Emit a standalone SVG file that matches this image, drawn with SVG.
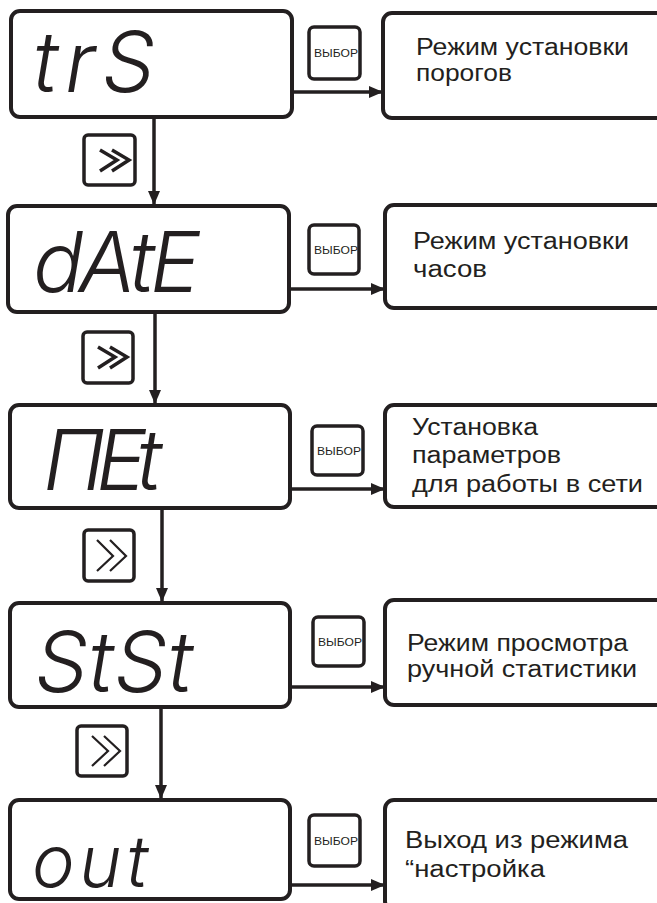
<svg xmlns="http://www.w3.org/2000/svg" width="657" height="903" viewBox="0 0 657 903">
<style>
.box{fill:#fff;stroke:#231f20;stroke-width:4}
.btn{fill:none;stroke:#231f20;stroke-width:3.5}
.nbtn{fill:#fff;stroke:#231f20;stroke-width:3.5}
.seg{font-family:Inter,"Liberation Sans",sans-serif;font-style:italic;font-weight:300;font-size:84px;fill:#231f20}
.lbl{font-family:"Liberation Sans",Arial,sans-serif;font-size:23px;fill:#231f20}
.bt{font-family:"Liberation Sans",Arial,sans-serif;font-size:11px;fill:#231f20}
.chev{fill:none;stroke:#231f20;stroke-width:3.5;stroke-linejoin:miter}
.chev2{fill:none;stroke:#231f20;stroke-width:2.2;stroke-linejoin:miter}
.con{fill:none;stroke:#231f20;stroke-width:3.5}
</style>
<defs>
<marker id="ah" viewBox="0 0 14 12" refX="14" refY="6" markerWidth="14" markerHeight="12" markerUnits="userSpaceOnUse" orient="auto">
<path d="M0,0 L14,6 L0,12 Z" fill="#231f20"/>
</marker>
</defs>
<rect width="657" height="903" fill="#fff"/>

<g id="connectors">
<line class="con" x1="154" y1="117" x2="154" y2="205" marker-end="url(#ah)"/>
<line class="con" x1="155" y1="312" x2="155" y2="404" marker-end="url(#ah)"/>
<line class="con" x1="162" y1="508" x2="162" y2="602" marker-end="url(#ah)"/>
<line class="con" x1="161" y1="707" x2="161" y2="799" marker-end="url(#ah)"/>
<line class="con" x1="292" y1="92" x2="383" y2="92" marker-end="url(#ah)"/>
<line class="con" x1="289" y1="289" x2="385" y2="289" marker-end="url(#ah)"/>
<line class="con" x1="290" y1="489" x2="385" y2="489" marker-end="url(#ah)"/>
<line class="con" x1="290" y1="687" x2="385" y2="687" marker-end="url(#ah)"/>
<line class="con" x1="290" y1="885" x2="385" y2="885" marker-end="url(#ah)"/>
</g>

<g id="disp-trS">
<rect class="box" x="11" y="11" width="281" height="106" rx="9"/>
<text class="seg" x="33" y="92" textLength="122">trS</text>
</g>
<g id="btn-vybor-1">
<text class="bt" x="314" y="57" textLength="44" lengthAdjust="spacingAndGlyphs">ВЫБОР</text>
<rect class="btn" x="309" y="27" width="51" height="52" rx="5"/>
</g>
<g id="mode-1">
<rect class="box" x="383" y="13" width="285" height="105" rx="9"/>
<text class="lbl" x="416" y="55" textLength="213" lengthAdjust="spacingAndGlyphs">Режим установки</text>
<text class="lbl" x="416" y="81" textLength="96" lengthAdjust="spacingAndGlyphs">порогов</text>
</g>
<g id="btn-next-1">
<rect class="nbtn" x="84" y="135" width="51" height="50" rx="4"/>
<polyline class="chev" points="100,150 117,160 100,171"/>
<polyline class="chev" points="112,150 129,160 112,171"/>
</g>

<g id="disp-dAtE">
<rect class="box" x="8" y="206" width="281" height="106" rx="9"/>
<text class="seg" x="33" y="292" textLength="167">dAtE</text>
</g>
<g id="btn-vybor-2">
<text class="bt" x="314" y="254" textLength="44" lengthAdjust="spacingAndGlyphs">ВЫБОР</text>
<rect class="btn" x="309" y="225" width="50" height="49" rx="5"/>
</g>
<g id="mode-2">
<rect class="box" x="385" y="205" width="283" height="103" rx="9"/>
<text class="lbl" x="413" y="249" textLength="216" lengthAdjust="spacingAndGlyphs">Режим установки</text>
<text class="lbl" x="413" y="277" textLength="74" lengthAdjust="spacingAndGlyphs">часов</text>
</g>
<g id="btn-next-2">
<rect class="nbtn" x="83" y="332" width="50" height="51" rx="4"/>
<polyline class="chev" points="98,347 115,357 98,368"/>
<polyline class="chev" points="110,347 127,357 110,368"/>
</g>

<g id="disp-NEt">
<rect class="box" x="10" y="405" width="280" height="103" rx="9"/>
<text class="seg" x="43" y="490" textLength="119">ПEt</text>
</g>
<g id="btn-vybor-3">
<text class="bt" x="317" y="455" textLength="44" lengthAdjust="spacingAndGlyphs">ВЫБОР</text>
<rect class="btn" x="312" y="426" width="51" height="49" rx="5"/>
</g>
<g id="mode-3">
<rect class="box" x="385" y="405" width="283" height="102" rx="9"/>
<text class="lbl" x="412" y="435" textLength="126" lengthAdjust="spacingAndGlyphs">Установка</text>
<text class="lbl" x="412" y="463" textLength="149" lengthAdjust="spacingAndGlyphs">параметров</text>
<text class="lbl" x="412" y="492" textLength="231" lengthAdjust="spacingAndGlyphs">для работы в сети</text>
</g>
<g id="btn-next-3">
<rect class="nbtn" x="84" y="530" width="50" height="51" rx="4"/>
<polyline class="chev2" points="97,540 113,556 97,571"/>
<polyline class="chev2" points="110,540 126,556 110,571"/>
</g>

<g id="disp-StSt">
<rect class="box" x="10" y="603" width="280" height="104" rx="9"/>
<text class="seg" x="35" y="692" textLength="158">StSt</text>
</g>
<g id="btn-vybor-4">
<text class="bt" x="318" y="646" textLength="44" lengthAdjust="spacingAndGlyphs">ВЫБОР</text>
<rect class="btn" x="313" y="617" width="51" height="49" rx="5"/>
</g>
<g id="mode-4">
<rect class="box" x="385" y="600" width="283" height="105" rx="9"/>
<text class="lbl" x="407" y="651" textLength="221" lengthAdjust="spacingAndGlyphs">Режим просмотра</text>
<text class="lbl" x="407" y="677" textLength="230" lengthAdjust="spacingAndGlyphs">ручной статистики</text>
</g>
<g id="btn-next-4">
<rect class="nbtn" x="77" y="726" width="50" height="50" rx="4"/>
<polyline class="chev2" points="92,736 108,751 92,766"/>
<polyline class="chev2" points="104,736 120,751 104,766"/>
</g>

<g id="disp-out">
<rect class="box" x="10" y="800" width="280" height="99" rx="9"/>
<text class="seg" x="32" y="887" textLength="116" style="font-size:72px">out</text>
</g>
<g id="btn-vybor-5">
<text class="bt" x="314" y="845" textLength="44" lengthAdjust="spacingAndGlyphs">ВЫБОР</text>
<rect class="btn" x="309" y="815" width="51" height="51" rx="5"/>
</g>
<g id="mode-5">
<rect class="box" x="385" y="800" width="283" height="110" rx="9"/>
<text class="lbl" x="405" y="848" textLength="223" lengthAdjust="spacingAndGlyphs">Выход из режима</text>
<text class="lbl" x="405" y="877" textLength="140" lengthAdjust="spacingAndGlyphs">“настройка</text>
</g>
</svg>
